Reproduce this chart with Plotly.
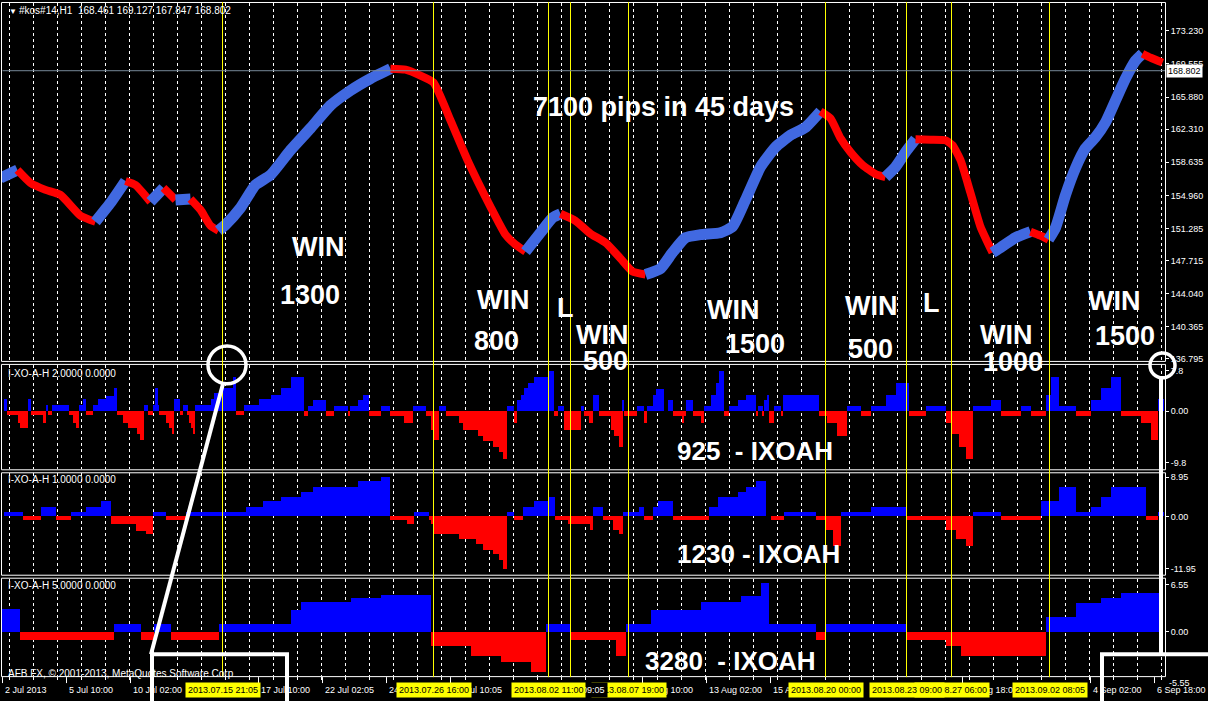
import plotly.graph_objects as go

W, H = 1208, 701
FONT = "Liberation Sans, Arial, sans-serif"
BAND_BLUE = "#4169E1"
RED = "#FF0000"
HIST_BLUE = "#0000FF"
YELLOW = "#FFFF00"

# ---------------- price band (bar position -> price) ----------------
bar_pos = [0, 17, 30, 45, 60, 80, 95, 110, 125, 135, 150, 163, 175, 190, 200, 210, 218, 225, 240, 255,
           270, 290, 310, 330, 350, 370, 390, 405, 420, 433, 450, 467, 490, 505, 515, 525, 540, 552, 560, 575,
           590, 605, 620, 632, 645, 660, 672, 685, 700, 720, 732, 745, 760, 775, 790, 805, 820, 830, 840, 850,
           862, 875, 885, 895, 905, 915, 930, 945, 952, 960, 970, 980, 992, 1000, 1015, 1030, 1040, 1048, 1055, 1065,
           1075, 1085, 1095, 1105, 1115, 1125, 1135, 1142, 1150, 1162]
price = [156.89, 157.77, 156.34, 155.57, 155.01, 152.70, 152.03, 154.13, 156.56, 156.12, 154.24, 155.79, 154.46, 154.57, 153.36, 151.59, 151.04, 151.70, 153.58, 156.12,
         157.22, 159.98, 162.41, 164.95, 166.61, 167.93, 169.03, 168.92, 168.26, 167.49, 163.29, 158.88, 153.69, 150.60, 149.49, 148.72, 150.82, 152.47, 152.92, 152.14,
         150.71, 149.71, 147.95, 146.51, 146.18, 146.84, 148.61, 150.27, 150.60, 150.82, 151.48, 154.46, 158.11, 160.31, 161.64, 162.52, 164.29, 163.51, 161.31, 159.76,
         158.33, 157.33, 157.00, 158.11, 159.76, 161.20, 161.15, 161.09, 160.53, 158.88, 155.23, 151.48, 148.61, 149.16, 150.27, 150.93, 150.49, 150.05, 151.37, 155.01,
         157.99, 160.20, 161.42, 163.07, 165.50, 167.93, 169.92, 170.69, 170.25, 169.70]
price_ticks = [173.230, 169.555, 165.880, 162.310, 158.635, 154.960, 151.285, 147.715, 144.040, 140.365, 136.795]
price_range = [136.58, 176.32]
last_price = 168.802
header_text = "#kos#14,H1  168.461 169.127 167.847 168.802"

# ---------------- I-XO-A-H histograms: segment edges (bars) and values ----------------
ixoah2_edges = [3, 6, 17, 19, 27, 30, 42, 45, 47, 51, 68, 72, 75, 78, 82, 85, 92, 97, 105, 113,
                116, 122, 127, 136, 139, 143, 147, 152, 154, 157, 158, 165, 168, 171, 173, 179, 182, 187, 188, 191,
                192, 194, 210, 213, 220, 232, 235, 243, 258, 270, 280, 290, 303, 307, 312, 325, 333, 347, 349, 357,
                362, 368, 380, 389, 403, 412, 425, 430, 433, 438, 445, 458, 462, 477, 482, 492, 498, 502, 506, 513,
                516, 520, 523, 527, 533, 547, 553, 557, 563, 580, 583, 588, 592, 598, 610, 613, 618, 622, 623, 636,
                643, 646, 652, 655, 663, 667, 672, 681, 683, 685, 692, 700, 703, 710, 715, 718, 723, 728, 737, 745,
                755, 757, 762, 763, 766, 768, 773, 780, 782, 818, 826, 836, 846, 860, 870, 885, 895, 908, 925, 945,
                950, 958, 965, 972, 990, 1000, 1020, 1030, 1045, 1050, 1058, 1075, 1090, 1100, 1110, 1120, 1140, 1150, 1157, 1163]
ixoah2_vals = [2.05, -0.7, -1.9, -2.9, 2.05, -0.7, -1.9, 1.0, -0.7, 1.0,
               -0.7, -1.9, -2.9, 1.0, 2.05, -0.7, 1.0, 2.05, 2.6, 3.9,
               -0.7, -1.9, -2.9, -3.8, -4.8, 1.0, -0.7, 1.0, 3.9, 1.0,
               -0.7, -1.9, -2.9, -3.8, 2.05, -0.7, 1.0, -0.7, -1.9, -2.9,
               -3.8, 1.0, 2.05, 3.1, 3.9, 5.8, -0.7, 1.0, 2.05, 2.7,
               3.9, 5.8, -0.85, 0.85, 1.9, -0.85, 0.85, -0.85, 0.85, 1.9,
               2.7, -0.85, 0.85, -0.85, -1.9, 0.85, -0.85, -3.1, -4.8, 0.85,
               -0.85, -1.9, -3.1, -4.1, -5.0, -6.0, -6.8, -8.0, 0.85, -1.9,
               1.9, 2.7, 3.9, 4.8, 5.8, 6.8, -0.85, 0.85, -3.1, 0.85,
               -0.85, -1.9, 2.7, -0.85, -3.1, -4.1, -6.0, 1.9, -0.85, 0.85,
               -1.9, 0.85, 2.7, 3.8, 0, 1.9, -0.85, -1.9, -0.85, 1.9,
               -0.85, -1.9, 0.85, 2.7, 4.8, 6.8, -0.85, 0.85, 1.9, 2.7,
               -0.85, 0.85, -0.85, 1.9, 2.7, -1.9, 0.85, -0.85, 2.7, -0.85,
               -1.9, -4.1, 0.85, -0.85, 0.85, 2.7, 4.8, -0.85, 0.85, -1.9,
               -3.8, -6.0, -8.0, 0.85, 1.9, -0.85, 0.85, -0.85, 2.7, 5.8,
               0.85, -0.85, 1.9, 3.9, 5.8, -0.85, -1.9, -4.8, 2.05]

ixoah1_edges = [3, 22, 40, 55, 70, 85, 100, 110, 135, 145, 152, 165, 185, 245, 262, 280, 300, 312, 357, 380,
                389, 406, 413, 428, 430, 433, 458, 475, 482, 492, 498, 502, 506, 513, 522, 533, 547, 554, 567, 589,
                592, 602, 612, 618, 622, 638, 643, 652, 657, 672, 708, 717, 737, 745, 755, 765, 770, 783, 815, 825,
                832, 840, 870, 905, 945, 955, 965, 972, 1000, 1040, 1058, 1075, 1090, 1100, 1110, 1145, 1157, 1163]
ixoah1_vals = [1.0, -0.8, 2.0, -0.8, 1.0, 2.0, 3.1, -1.6, -3.1, -3.7,
               1.0, -0.8, 1.0, 2.0, 3.1, 4.1, 5.1, 6.1, 7.2, 8.2,
               -0.8, -1.6, 1.0, -0.8, -1.6, -3.7, -4.7, -5.7, -7.0, -7.8,
               -9.0, -10.9, 1.0, -0.8, 2.0, 3.1, 4.1, -0.8, -1.6, -2.7,
               2.0, -0.8, -2.7, -3.7, 1.0, 2.0, -0.8, 2.0, 3.1, -0.8,
               2.0, 4.1, 5.1, 6.1, 7.2, 0, -0.8, 1.0, -0.8, -2.7,
               -6.0, 1.0, 2.0, -0.8, -2.7, -4.7, -6.1, 1.0, -0.8, 3.1,
               6.1, 1.0, 2.0, 4.1, 6.1, -0.8, 1.0]

ixoah5_edges = [0, 19, 113, 140, 153, 170, 218, 290, 300, 350, 380, 430, 470, 500, 530, 545, 570, 615, 625, 650,
                700, 740, 760, 768, 815, 825, 905, 945, 960, 1045, 1075, 1100, 1120, 1160]
ixoah5_vals = [2.85, -1.0, 1.0, -1.0, 1.0, -1.0, 1.0, 2.7, 3.7, 4.2,
               4.6, -1.8, -3.0, -3.8, -5.0, 1.0, -1.0, -3.0, 1.0, 2.7,
               3.7, 4.4, 6.1, 1.0, -1.0, 1.0, -1.0, -1.8, -3.0, 1.8,
               3.6, 4.2, 4.8]

p2_range = [-9.8, 7.8]
p3_range = [-11.95, 8.95]
p4_range = [-5.55, 6.55]
p2_tick_text = ["7.8", "0.00", "-9.8"]
p3_tick_text = ["8.95", "0.00", "-11.95"]
p4_tick_text = ["6.55", "0.00"]

# ---------------- signals / time axis ----------------
signal_bars = [222, 433, 548, 570, 628, 825, 906, 951, 1049]
label_bars = [628, 951, 906, 222, 433, 548, 825, 1049]
label_texts = ["2013.08.07 19:00", "2013.08.27 06:00", "2013.08.23 09:00", "2013.07.15 21:05",
               "2013.07.26 16:00", "2013.08.02 11:00", "2013.08.20 00:00", "2013.09.02 08:05"]
time_pos = [2, 66, 130, 258, 322, 386, 450, 642, 706, 770, 962, 1090, 1154]
time_text = ["2 Jul 2013", "5 Jul 10:00", "10 Jul 02:00", "17 Jul 10:00", "22 Jul 02:05", "24 Jul 18:05",
             "29 Jul 10:05", "8 Aug 10:00", "13 Aug 02:00", "15 Aug 18:00", "27 Aug 18:00", "4 Sep 02:00", "6 Sep 18:00"]

trade_text = ["WIN", "1300", "WIN", "800", "L", "WIN", "500", "WIN", "1500", "WIN", "500", "L", "WIN", "1000", "WIN", "1500"]

# ---------------- layout geometry (pixels) ----------------
XL, XR = 2, 1165
panels = [(2, 362), (366, 471), (475, 577), (581, 679)]


def px(x):
    return x / W


def py(y):
    return 1 - y / H


fig = go.Figure()

# price band, coloured by direction
cols = [BAND_BLUE if price[i + 1] >= price[i] else RED for i in range(len(price) - 1)]
s = 0
for i in range(1, len(cols) + 1):
    if i == len(cols) or cols[i] != cols[s]:
        wdt = 11 if cols[s] == BAND_BLUE else 8
        fig.add_trace(go.Scatter(x=bar_pos[s:i + 1], y=price[s:i + 1], mode="lines",
                                 line=dict(color=cols[s], width=wdt, shape="spline", smoothing=0.5),
                                 xaxis="x", yaxis="y", hoverinfo="skip"))
        s = i


def hist(edges, vals, xa, ya):
    xs = [(a + b) / 2 for a, b in zip(edges[:-1], edges[1:])]
    ws = [b - a for a, b in zip(edges[:-1], edges[1:])]
    cs = [HIST_BLUE if v > 0 else RED for v in vals]
    return go.Bar(x=xs, y=vals, width=ws, marker=dict(color=cs, line=dict(width=0)),
                  xaxis=xa, yaxis=ya, hoverinfo="skip")


fig.add_trace(hist(ixoah2_edges, ixoah2_vals, "x2", "y2"))
fig.add_trace(hist(ixoah1_edges, ixoah1_vals, "x3", "y3"))
fig.add_trace(hist(ixoah5_edges, ixoah5_vals, "x4", "y4"))

tickfont = dict(family=FONT, size=9, color="white")
# half-pixel offset keeps 1px lines crisp
xcommon = dict(range=[XL - 0.5, XR - 0.5], domain=[px(XL), px(XR)], showgrid=True, gridcolor="white", gridwidth=1,
               griddash="3px,3px", tick0=9, dtick=24, zeroline=False, showticklabels=False, showline=False,
               fixedrange=True)
layout = dict(width=W, height=H, margin=dict(l=0, r=0, t=0, b=0), paper_bgcolor="black",
              plot_bgcolor="black", showlegend=False, bargap=0)
for k, (ax, anc) in enumerate([("xaxis", "y"), ("xaxis2", "y2"), ("xaxis3", "y3"), ("xaxis4", "y4")]):
    d = dict(xcommon, anchor=anc)
    if k == 3:
        d.update(ticks="outside", ticklen=3, tickcolor="white", tickwidth=1)
    else:
        d.update(ticks="")
    layout[ax] = d


def ydom(t, b):
    return [py(b), py(t)]


ycommon = dict(side="right", ticks="outside", ticklen=3, tickcolor="white", tickfont=tickfont,
               showgrid=False, zeroline=False, showline=False, fixedrange=True)
layout["yaxis"] = dict(ycommon, anchor="x", domain=ydom(*panels[0]), range=price_range,
                       tickvals=price_ticks, ticktext=[f"{v:.3f}" for v in price_ticks])


def inner_ticks(rng, t, b, labels_px):
    k = (b - t) / (rng[1] - rng[0])
    return [rng[1] - (y - t) / k for y in labels_px]


layout["yaxis2"] = dict(ycommon, anchor="x2", domain=ydom(*panels[1]), range=p2_range,
                        tickvals=inner_ticks(p2_range, *panels[1], [372, 412.5, 464]), ticktext=p2_tick_text)
layout["yaxis3"] = dict(ycommon, anchor="x3", domain=ydom(*panels[2]), range=p3_range,
                        tickvals=inner_ticks(p3_range, *panels[2], [479, 518.7, 571]), ticktext=p3_tick_text)
layout["yaxis4"] = dict(ycommon, anchor="x4", domain=ydom(*panels[3]), range=p4_range,
                        tickvals=inner_ticks(p4_range, *panels[3], [587, 634.2]), ticktext=p4_tick_text)

shapes = []
# panel frames
for t, b in panels:
    shapes.append(dict(type="rect", xref="paper", yref="paper", x0=px(XL - 0.5), x1=px(XR + 0.5),
                       y0=py(b + 0.5), y1=py(t - 0.5), line=dict(color="white", width=1), layer="above"))
# signal lines
for xb in signal_bars:
    shapes.append(dict(type="line", xref="x", yref="paper", x0=xb, x1=xb, y0=py(680), y1=py(1),
                       line=dict(color=YELLOW, width=1), layer="above"))
# last price line
shapes.append(dict(type="line", xref="x", yref="y", x0=XL, x1=XR, y0=last_price, y1=last_price,
                   line=dict(color="#778899", width=1), layer="above"))
# long ticks at time labels
for tp in time_pos:
    shapes.append(dict(type="line", xref="x4", yref="paper", x0=tp, x1=tp, y0=py(680), y1=py(686),
                       line=dict(color="white", width=1), layer="above"))
# callouts
WL = dict(color="white", width=4)
shapes += [
    dict(type="circle", xref="paper", yref="paper", x0=px(208), x1=px(246), y0=py(385), y1=py(347),
         line=dict(color="white", width=3.5), layer="above"),
    dict(type="line", xref="paper", yref="paper", x0=px(223), y0=py(385), x1=px(151), y1=py(657), line=WL, layer="above"),
    dict(type="line", xref="paper", yref="paper", x0=px(150), y0=py(657), x1=px(289), y1=py(657), line=WL, layer="above"),
    dict(type="circle", xref="paper", yref="paper", x0=px(1150), x1=px(1175), y0=py(379), y1=py(354),
         line=dict(color="white", width=3.5), layer="above"),
    dict(type="line", xref="paper", yref="paper", x0=px(1161), y0=py(379), x1=px(1161), y1=py(657), line=WL, layer="above"),
    dict(type="line", xref="paper", yref="paper", x0=px(1100), y0=py(657), x1=px(1208), y1=py(657), line=WL, layer="above"),
]
layout["shapes"] = shapes

ann = []


def txt(x, y, s, size=10, color="white", xanchor="left", bold=False, **kw):
    ann.append(dict(xref="paper", yref="paper", x=px(x), y=py(y), text=(f"<b>{s}</b>" if bold else s),
                    showarrow=False, xanchor=xanchor, yanchor="middle",
                    font=dict(family=FONT, size=size, color=color), **kw))


txt(7, 11, "▼", size=8)
txt(17, 10, header_text, size=10)
txt(6, 375, "I-XO-A-H 2.0000 0.0000", size=10)
txt(6, 481, "I-XO-A-H 1.0000 0.0000", size=10)
txt(6, 588, "I-XO-A-H 5.0000 0.0000", size=10)
txt(6, 676, "AFB FX, © 2001-2013, MetaQuotes Software Corp", size=10)
txt(1167, 686, "-5.55", size=9)
txt(1166, 70, "168.802", size=9, color="black", bgcolor="white", borderpad=1)

# big text
txt(663, 107, "7100 pips in 45 days", size=27, xanchor="center", bold=True)
trade_px = [(318, 247), (310, 296), (503, 301), (496, 342), (565, 309), (602, 336), (605, 362), (733, 311),
            (755, 345), (871, 307), (870, 350), (931, 304), (1006, 336), (1013, 363), (1114, 302), (1125, 337)]
for s_, (x_, y_) in zip(trade_text, trade_px):
    txt(x_, y_, s_, size=27, xanchor="center", bold=True)
txt(755, 453, "925 &nbsp;- IXOAH", size=26, xanchor="center", bold=True)
txt(758, 556, "1230 - IXOAH", size=26, xanchor="center", bold=True)
txt(730, 664, "3280 &nbsp;- IXOAH", size=26, xanchor="center", bold=True)

# time labels
for tp, tt in zip(time_pos, time_text):
    ann.append(dict(xref="x4", yref="paper", x=tp, y=py(693), text=tt, showarrow=False, xanchor="left",
                    yanchor="middle", font=dict(family=FONT, size=9, color="white")))


def ylab(bar, text):
    ann.append(dict(xref="x4", yref="paper", x=bar, y=py(693), text=text, showarrow=False, xanchor="center",
                    yanchor="middle", bgcolor=YELLOW, borderpad=2,
                    font=dict(family=FONT, size=9, color="black")))


ylab(label_bars[0], label_texts[0])
ann.append(dict(xref="x4", yref="paper", x=578, y=py(693), text="09:05", showarrow=False, xanchor="left",
                yanchor="middle", bgcolor="black", borderpad=2, font=dict(family=FONT, size=9, color="white")))
for b_, t_ in zip(label_bars[1:], label_texts[1:]):
    ylab(b_, t_)

# white callout legs drawn on top of labels
for xl in [152, 287, 1102]:
    ann.append(dict(xref="paper", yref="paper", x=px(xl), y=py(656), text="\u00a0", showarrow=False,
                    xanchor="center", yanchor="top", width=4, height=60, bgcolor="white", borderpad=0,
                    borderwidth=0, font=dict(size=4)))

layout["annotations"] = ann
fig.update_layout(**layout)

fig.write_html("out.html", config={"displayModeBar": False},
               post_script="document.body.style.margin='0';document.body.style.background='black';")
